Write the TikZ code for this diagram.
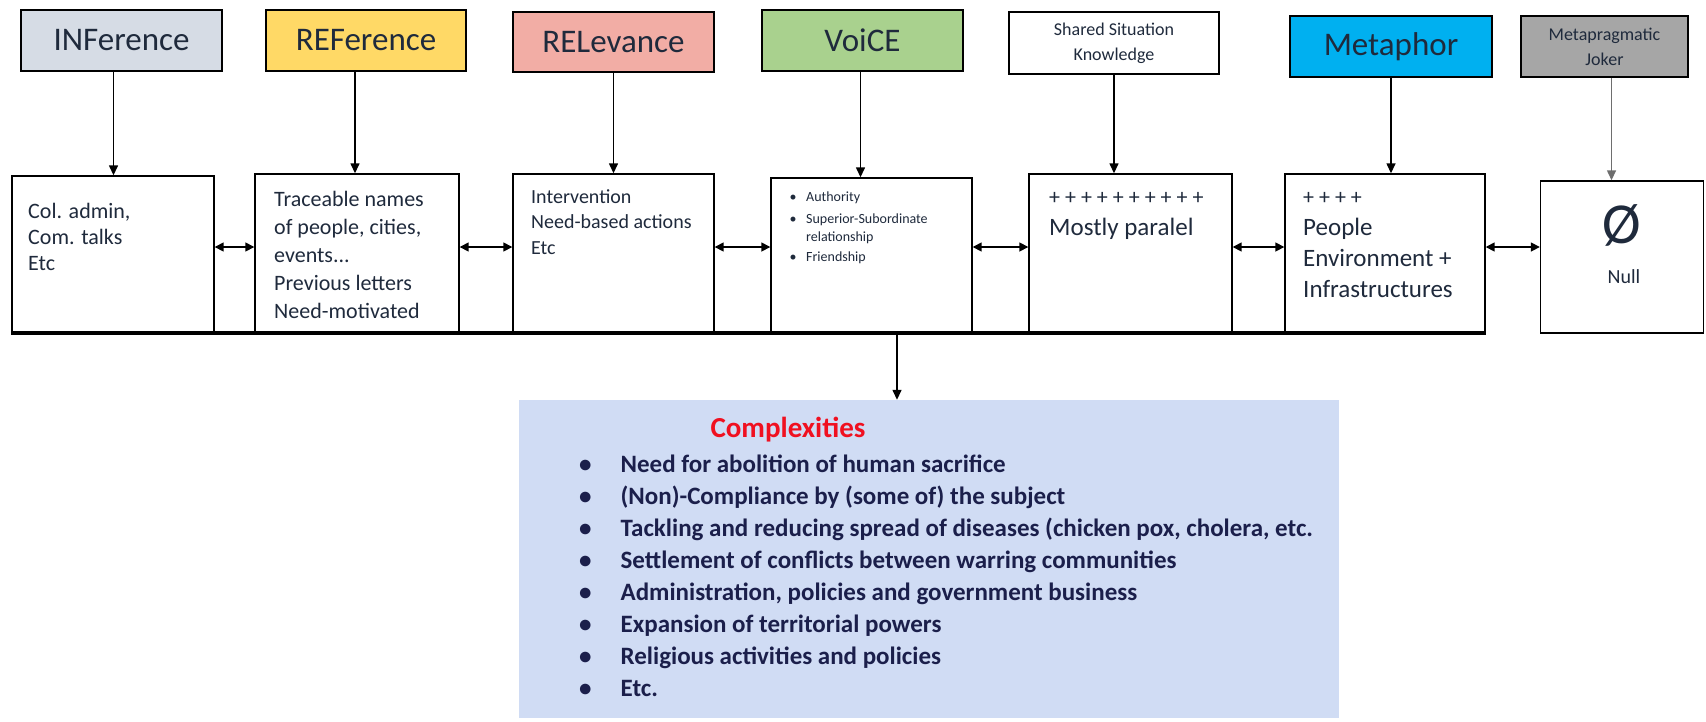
\documentclass[tikz,border=0pt]{standalone}
\usepackage{fontspec}
\setmainfont{Carlito}
\usetikzlibrary{arrows.meta}

\definecolor{infblue}{HTML}{D6DCE5}
\definecolor{refgold}{HTML}{FFD966}
\definecolor{relpink}{HTML}{F2ADA5}
\definecolor{voicegreen}{HTML}{A9D18E}
\definecolor{metablue}{HTML}{00B0F0}
\definecolor{jokergray}{HTML}{A6A6A6}
\definecolor{cxback}{HTML}{D0DCF4}
\definecolor{darktext}{HTML}{1F2A3C}
\definecolor{cxred}{HTML}{F01020}
\definecolor{cxtext}{HTML}{1B1F4B}
\definecolor{jokerline}{HTML}{6E6E6E}

\newcommand{\headfont}{\fontsize{33}{38}\selectfont}
\newcommand{\smallheadfont}{\fontsize{18}{25}\selectfont}

\begin{document}
\begin{tikzpicture}[x=1pt, y=-1pt,
		headbox/.style={draw, line width=1.6pt, minimum height=61pt, inner sep=0pt, text=darktext},
		itembox/.style={draw, line width=1.4pt, fill=white, inner sep=0pt},
		boxtext/.style={anchor=north west, align=left, inner sep=0pt, text=darktext},
		arr/.style={-{Triangle[length=10pt,width=9pt]}, line width=1.4pt},
		dbl/.style={{Triangle[length=9pt,width=9pt]}-{Triangle[length=9pt,width=9pt]}, line width=1.6pt}]

				\useasboundingbox (0,0) rectangle (1706,721);

				\node [headbox, fill=infblue, minimum width=201pt, font=\headfont] (inf) at (121.5, 40.5) {INFerence};
				\node [headbox, fill=refgold, minimum width=200pt, font=\headfont] (ref) at (366, 40.5) {REFerence};
				\node [headbox, fill=relpink, minimum width=201pt, minimum height=60pt, font=\headfont] (rel) at (613.5, 42) {RELevance};
				\node [headbox, fill=voicegreen, minimum width=201pt, font=\headfont] (voice) at (862.5, 40.5) {VoiCE};
				\node [headbox, minimum width=210pt, minimum height=62pt, align=center, font=\smallheadfont] (shared) at (1114, 43) {Shared Situation\\Knowledge};
				\node [headbox, fill=metablue, minimum width=202pt, font=\headfont] (metaphor) at (1391, 46.5) {Metaphor};
				\node [headbox, fill=jokergray, minimum width=167pt, align=center, font=\smallheadfont] (joker) at (1604.5, 46.5) {Metapragmatic\\Joker};


				\node [itembox, minimum width=202pt, minimum height=156pt] (colbox) at (113, 254) {};
				\node [itembox, minimum width=204pt, minimum height=158pt] (namesbox) at (357, 253) {};
				\node [itembox, minimum width=201pt, minimum height=158pt] (actionbox) at (613.5, 253) {};
				\node [itembox, minimum width=201pt, minimum height=154pt] (authbox) at (871.5, 255) {};
				\node [itembox, minimum width=203pt, minimum height=158pt] (parbox) at (1130.5, 253) {};
				\node [itembox, minimum width=200pt, minimum height=158pt] (peoplebox) at (1385, 253) {};
				\node [itembox, minimum width=163pt, minimum height=152pt] (nullbox) at (1622, 257) {};

				\node [boxtext, font=\fontsize{22}{26}\selectfont] (coltext) at (28, 203) {Col. admin,\\Com. talks\\Etc};
				\node [boxtext, font=\fontsize{22}{28}\selectfont] (namestext) at (274, 191) {Traceable names\\of people, cities,\\events...\\Previous letters\\Need-motivated};
				\node [boxtext, font=\fontsize{20}{25.5}\selectfont] (actiontext) at (531, 189) {Intervention\\Need-based actions\\Etc};
				\node [boxtext, font=\fontsize{14}{18}\selectfont] (authtext) at (789.5, 189) {\begin{tabular}{@{}l@{\hspace{9.5pt}}l@{}}
					\textbullet & Authority\\[4pt]
					\textbullet & Superior-Subordinate\\
					 & relationship\\[2pt]
					\textbullet & Friendship
				\end{tabular}};
				\node [boxtext, font=\fontsize{25}{31}\selectfont] (partext) at (1049, 192) {{\fontsize{22}{31}\selectfont + + + + + + + + + +}\\Mostly paralel};
				\node [boxtext, font=\fontsize{25}{31}\selectfont] (peopletext) at (1303, 192) {{\fontsize{22}{31}\selectfont + + + +}\\People\\Environment +\\Infrastructures};
				\node [text=darktext, font=\fontsize{58}{58}\selectfont, inner sep=0pt] (nullsign) at (1622, 225) {Ø};
				\node [text=darktext, font=\fontsize{20}{24}\selectfont, inner sep=0pt] (nulltext) at (1624, 277) {Null};

				\draw [arr] ([xshift=-8pt]inf.south) -- ([xshift=-8pt]inf.south |- colbox.north);
				\draw [arr] ([xshift=-11pt]ref.south) -- ([xshift=-11pt]ref.south |- namesbox.north);
				\draw [arr] (rel.south) -- (rel.south |- actionbox.north);
				\draw [arr] ([xshift=-2pt]voice.south) -- ([xshift=-2pt]voice.south |- authbox.north);
				\draw [arr] (shared.south) -- (shared.south |- parbox.north);
				\draw [arr] (metaphor.south) -- (metaphor.south |- peoplebox.north);
				\draw [arr, jokerline] ([xshift=7pt]joker.south) -- ([xshift=7pt]joker.south |- nullbox.north);

				\coordinate (level) at (0, 247);
				\draw [dbl] (colbox.east |- level) -- (namesbox.west |- level);
				\draw [dbl] (namesbox.east |- level) -- (actionbox.west |- level);
				\draw [dbl] (actionbox.east |- level) -- (authbox.west |- level);
				\draw [dbl] (authbox.east |- level) -- (parbox.west |- level);
				\draw [dbl] (parbox.east |- level) -- (peoplebox.west |- level);
				\draw [dbl] (peoplebox.east |- level) -- (nullbox.west |- level);

				\draw [line width=4pt] (colbox.south west) -- (peoplebox.south east);

				\node [fill=cxback, minimum width=820pt, minimum height=318pt, inner sep=0pt] (cx) at (929, 559) {};
				\node [text=cxred, font=\fontsize{29}{34}\selectfont\bfseries] (cxtitle) at (788, 430) {Complexities};
				\node [boxtext, text=cxtext, font=\fontsize{25}{32}\selectfont\bfseries] (cxlist) at (579, 450) {\begin{tabular}{@{}l@{\hspace{29pt}}l@{}}
					\textbullet & Need for abolition of human sacrifice\\
					\textbullet & (Non)-Compliance by (some of) the subject\\
					\textbullet & Tackling and reducing spread of diseases (chicken pox, cholera, etc.\\
					\textbullet & Settlement of conflicts between warring communities\\
					\textbullet & Administration, policies and government business\\
					\textbullet & Expansion of territorial powers\\
					\textbullet & Religious activities and policies\\
					\textbullet & Etc.
				\end{tabular}};

				\coordinate (split) at (897, 333);
				\draw [arr] (split) -- (split |- cx.north);
		\end{tikzpicture}
\end{document}
